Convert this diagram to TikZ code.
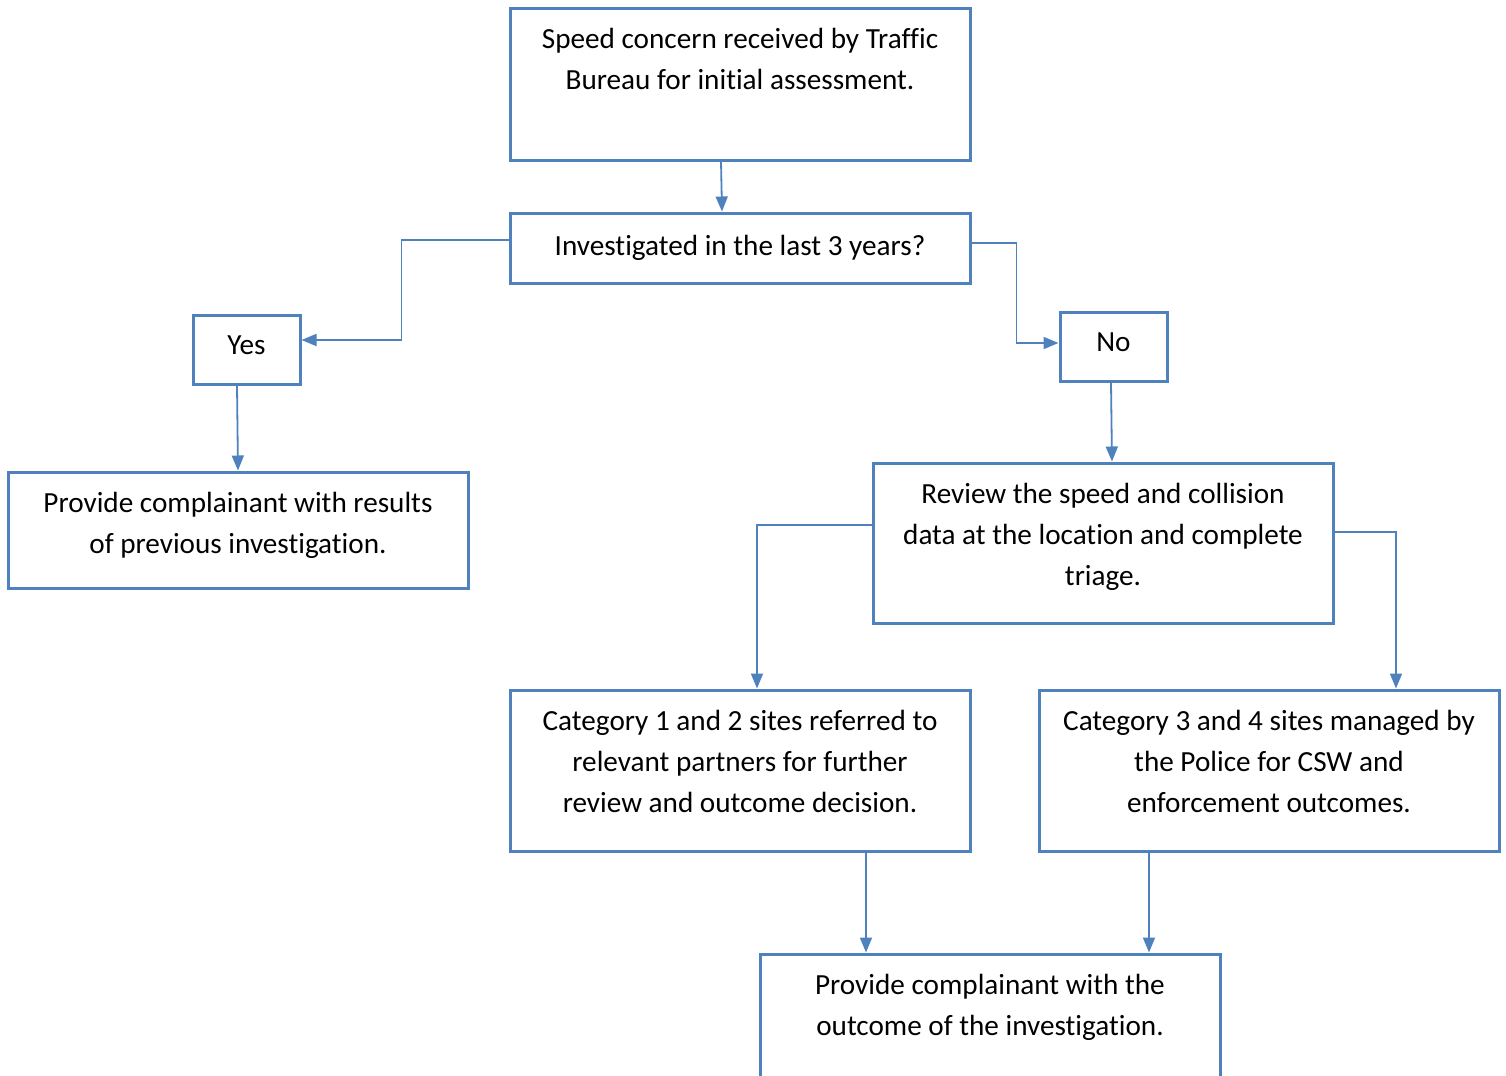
\documentclass[tikz,border=0pt]{standalone}
\usepackage{fontspec}
\setmainfont{Carlito}[Ligatures=NoCommon]
\usepackage{tikz}
\usetikzlibrary{arrows.meta, positioning}
\definecolor{boxblue}{RGB}{79,129,189}

\begin{document}
\begin{tikzpicture}[
  x=0.5pt, y=-0.5pt,
  box/.style={draw=boxblue, line width=1.5pt, inner sep=0pt, fill=white,
    font=\fontsize{14.6}{20.5}\selectfont, align=center},
  tbox/.style={box,
    execute at begin node={\begin{minipage}[t][#1][t]{230pt}\centering\vspace*{10pt}\strut},
    execute at end node={\end{minipage}}},
  cbox/.style={box, minimum width=230pt, minimum height=35pt},
  sbox/.style={box, minimum width=53.5pt, minimum height=34.5pt,
    text height=9.5pt, text depth=5pt},
  arr/.style={-{Triangle[length=7.5pt, width=6pt]}, draw=boxblue, line width=0.9pt}
]
  \clip (0,0) rectangle (1506,1076);

  \node[tbox=76pt] (concern) at (740,84) {Speed concern received by Traffic\\Bureau for initial assessment.};
  \node[cbox] (invest) at (740,248) {Investigated in the last 3 years?};
  \node[sbox] (yes) at (246.5,349.5) {Yes};
  \node[sbox] (no) at (1113.5,346.5) {No};
  \node[tbox=58pt] (previous) at (238,530) {Provide complainant with results\\of previous investigation.};
  \node[tbox=80pt] (review) at (1103,543) {Review the speed and collision\\data at the location and complete\\triage.};
  \node[tbox=80.5pt] (cat12) at (740,770.5) {Category 1 and 2 sites referred to\\relevant partners for further\\review and outcome decision.};
  \node[tbox=80.5pt] (cat34) at (1269,770.5) {Category 3 and 4 sites managed by\\the Police for CSW and\\enforcement outcomes.};
  \node[tbox=80pt] (outcome) at (990,1034) {Provide complainant with the\\outcome of the investigation.};

  \draw[arr] ([xshift=-9.5pt]concern.south) -- ([xshift=-9pt]invest.north);
  \draw[arr] ([yshift=4pt]invest.west) -- ++(-53.5pt,0) |- ([yshift=4.75pt]yes.east);
  \draw[arr] ([yshift=2.5pt]invest.east) -- ++(22.5pt,0) |- ([yshift=1.75pt]no.west);
  \draw[arr] ([xshift=-4.75pt]yes.south) -- (previous.north);
  \draw[arr] ([xshift=-1.25pt]no.south) -- ([xshift=4.5pt]review.north);
  \draw[arr] ([yshift=9pt]review.west) -| ([xshift=8.5pt]cat12.north);
  \draw[arr] ([yshift=5.5pt]review.east) -| ([xshift=63.5pt]cat34.north);
  \draw[arr] ([xshift=63pt]cat12.south) -- ([xshift=-62pt]outcome.north);
  \draw[arr] ([xshift=-60pt]cat34.south) -- ([xshift=79.5pt]outcome.north);
\end{tikzpicture}
\end{document}
